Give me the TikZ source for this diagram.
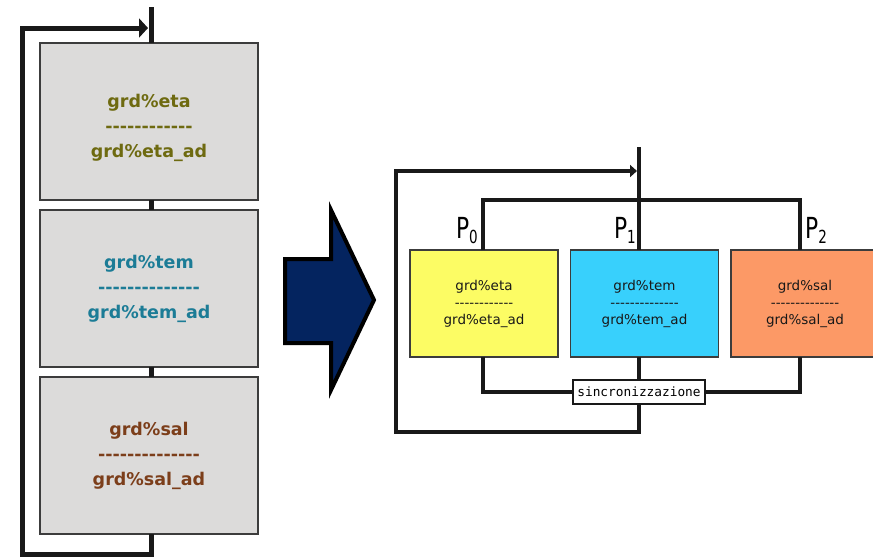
\documentclass[tikz,border=0pt]{standalone}
\usepackage{fontspec}
\setmainfont{DejaVu Sans}
\newfontfamily\monofont{DejaVu Sans Mono}
\usetikzlibrary{arrows.meta,positioning}
\definecolor{GridGray}{HTML}{DCDBDA}
\definecolor{EdgeGray}{HTML}{3C3C3C}
\definecolor{EtaYellow}{HTML}{FCFC64}
\definecolor{TemCyan}{HTML}{38D0FC}
\definecolor{SalOrange}{HTML}{FC9966}
\definecolor{ArrowNavy}{HTML}{04245F}
\definecolor{EtaInk}{HTML}{6E6A10}
\definecolor{TemInk}{HTML}{1C7C96}
\definecolor{SalInk}{HTML}{7C3E1A}
\newcommand\dashrow[1]{\foreach\k in {1,...,#1}{-}}
\newcommand\proc[1]{\scalebox{0.75}[1]{\fontsize{29}{29}\selectfont P\raisebox{-5pt}{\fontsize{18}{18}\selectfont #1}}}

\begin{document}
\begin{tikzpicture}[x=1pt,y=-1pt,node distance=10pt and 12.5pt,>=Triangle]
    \tikzset{
      gridbox/.style={draw=EdgeGray,line width=1.8pt,fill=GridGray,outer sep=0pt,
        minimum width=218pt,minimum height=157pt,align=center,
        font=\fontsize{17.5}{25}\selectfont\bfseries},
      procbox/.style={draw=EdgeGray,line width=1.4pt,text=black!90,outer sep=0pt,
        minimum width=148pt,minimum height=107pt,align=center,
        font=\fontsize{13.5}{17}\selectfont},
      wire/.style={line width=5pt,draw=black!90},
      bus/.style={line width=4pt,draw=black!90},
      plabel/.style={inner sep=0pt},
      syncbox/.style={draw=black!90,line width=2.5pt,fill=white,
        minimum width=132pt,minimum height=24pt,inner sep=2pt,
        font=\monofont\fontsize{12.8}{14}\selectfont}
    }
    \clip (0,0) rectangle (873,558);
    % sequential version
    \node[gridbox,text=EtaInk,text height=76pt] (seqeta) at (149,121.5) {grd\%eta\\\dashrow{12}\\grd\%eta\_ad};
    \node[gridbox,text=TemInk,below=of seqeta] (seqtem) {grd\%tem\\\dashrow{14}\\grd\%tem\_ad};
    \node[gridbox,text=SalInk,below=of seqtem] (seqsal) {grd\%sal\\\dashrow{14}\\grd\%sal\_ad};
    \coordinate (seqtop) at (151,7);
    \coordinate (seqbot) at (151,554);
    \coordinate (seqloop) at (22,28);
    \draw[wire] (seqtop) -- (seqtop |- seqeta.north);
    \draw[wire] (seqeta.south -| seqtop) -- (seqtem.north -| seqtop);
    \draw[wire] (seqtem.south -| seqtop) -- (seqsal.north -| seqtop);
    \draw[wire,->,>={Triangle[length=9pt,width=19pt]},shorten >=3pt]
      (seqsal.south -| seqtop) -- (seqbot) -| (seqloop) -- (seqloop -| seqtop);
    % arrow between the two versions
    \draw[line width=4pt,fill=ArrowNavy] (285,259) -- (331,259) -- (331,210)
      -- (374,300) -- (331,390) -- (331,343) -- (285,343) -- cycle;
    % parallel version
    \node[procbox,fill=EtaYellow] (pareta) at (484,303.5) {grd\%eta\\\dashrow{12}\\grd\%eta\_ad};
    \node[procbox,fill=TemCyan,right=of pareta] (partem) {grd\%tem\\\dashrow{14}\\grd\%tem\_ad};
    \node[procbox,fill=SalOrange,right=of partem] (parsal) {grd\%sal\\\dashrow{14}\\grd\%sal\_ad};
    \coordinate (partop) at (639,147);
    \coordinate (parloop) at (396,171);
    \coordinate (p0) at (483,200);
    \coordinate (p2) at (799.5,200);
    \coordinate (parjoin) at (639,392);
    \coordinate (parbot) at (639,432);
    \draw[bus] (partop) -- (partop |- partem.north);
    \draw[bus] (pareta.north -| p0) -- (p0) -- (p2) -- (parsal.north -| p2);
    \draw[bus] (pareta.south -| p0) -- (p0 |- parjoin) -- (parjoin -| p2) -- (parsal.south -| p2);
    \draw[bus] (partem.south -| partop) -- (parjoin);
    \node[syncbox] (sync) at (parjoin) {sincronizzazione};
    \draw[bus,->,>={Triangle[length=7pt,width=12pt]},shorten >=2pt]
      (sync.south) -- (parbot) -| (parloop) -- (parloop -| partop);
    \node[plabel,anchor=base east] (labp0) at (478,238) {\proc{0}};
    \node[plabel,anchor=base east] (labp1) at (636,238) {\proc{1}};
    \node[plabel,anchor=base west] (labp2) at (805,238) {\proc{2}};
  \end{tikzpicture}
\end{document}
